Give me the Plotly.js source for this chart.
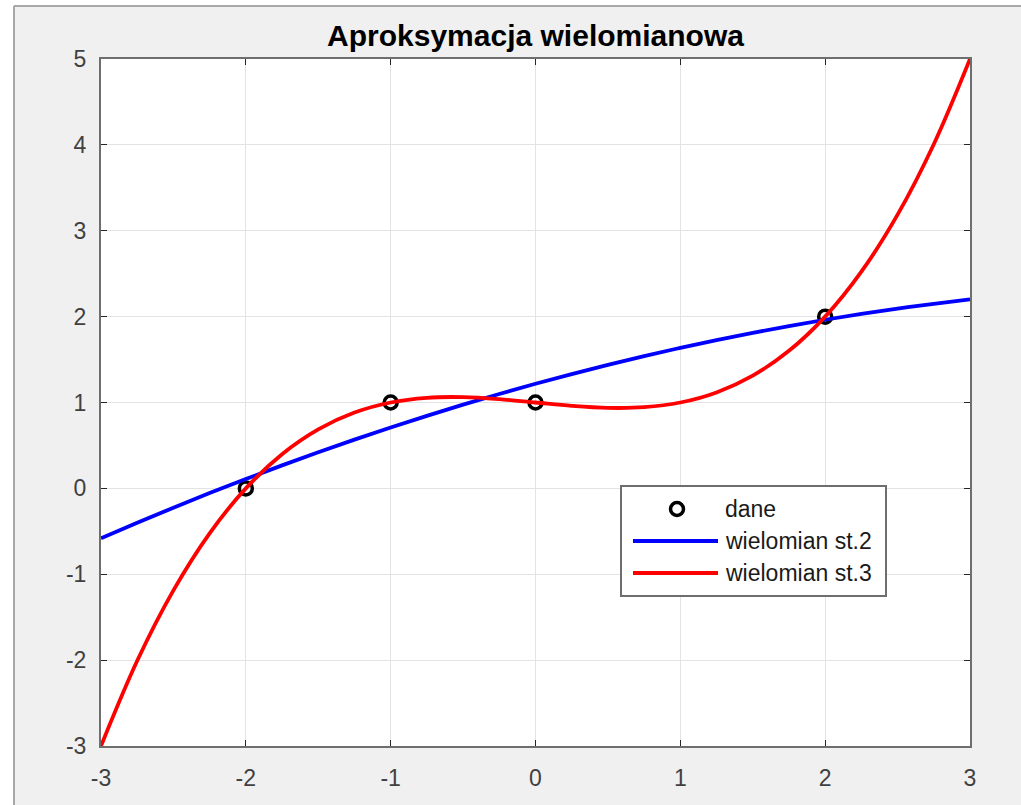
<!DOCTYPE html>
<html>
<head>
<meta charset="utf-8">
<script src="https://cdn.plot.ly/plotly-3.0.1.min.js"></script>
<style>
  html, body { margin: 0; padding: 0; background: #ffffff; }
  #chart { width: 1021px; height: 805px; }
</style>
</head>
<body>
<div id="chart"></div>
<script>
// Measured points
const dataX = [-2, -1, 0, 2];
const dataY = [0, 1, 1, 2];

// Sample abscissae for the fitted polynomials
const fitX = [-3, -2.75, -2.5, -2.25, -2, -1.75, -1.5, -1.25, -1, -0.75, -0.5, -0.25,
              0, 0.25, 0.5, 0.75, 1, 1.25, 1.5, 1.75, 2, 2.25, 2.5, 2.75, 3];

// Degree-2 least-squares polynomial, tabulated
const quadY = [-0.5818, -0.4006, -0.2250, -0.0551, 0.1091, 0.2676, 0.4205, 0.5676,
               0.7091, 0.8449, 0.9750, 1.0994, 1.2182, 1.3313, 1.4386, 1.5403,
               1.6364, 1.7267, 1.8114, 1.8903, 1.9636, 2.0313, 2.0932, 2.1494, 2.2000];

// Degree-3 polynomial, tabulated
const cubicY = [-3.0000, -2.0078, -1.1875, -0.5234, 0.0000, 0.3984, 0.6875, 0.8828,
                1.0000, 1.0547, 1.0625, 1.0391, 1.0000, 0.9609, 0.9375, 0.9453,
                1.0000, 1.1172, 1.3125, 1.6016, 2.0000, 2.5234, 3.1875, 4.0078, 5.0000];

// Tick values and labels
const xTicks = [-3, -2, -1, 0, 1, 2, 3];
const xTickText = ['-3', '-2', '-1', '0', '1', '2', '3'];
const yTicks = [-3, -2, -1, 0, 1, 2, 3, 4, 5];
const yTickText = ['-3', '-2', '-1', '0', '1', '2', '3', '4', '5'];

// Legend entries
const legendNames = ['dane', 'wielomian st.2', 'wielomian st.3'];
const titleText = 'Aproksymacja wielomianowa';

// Plot area geometry (pixels) used for placing the frame and legend
const W = 1021, H = 805;
const L = 101, R = 970, T = 59, B = 746;
const px = v => (v - L) / (R - L);
const py = v => (B - v) / (B - T);

const FONT = 'Liberation Sans, Arial, Helvetica, sans-serif';

const traces = [
  {
    x: dataX, y: dataY, type: 'scatter', mode: 'markers', name: legendNames[0],
    marker: { symbol: 'circle-open', size: 13, color: '#000000', line: { width: 3.5, color: '#000000' } },
    showlegend: false
  },
  {
    x: fitX, y: quadY, type: 'scatter', mode: 'lines', name: legendNames[1],
    line: { color: '#0000ff', width: 3.8, shape: 'spline', smoothing: 1 },
    showlegend: false
  },
  {
    x: fitX, y: cubicY, type: 'scatter', mode: 'lines', name: legendNames[2],
    line: { color: '#ff0000', width: 3.8, shape: 'spline', smoothing: 1 },
    showlegend: false
  }
];

const axisCommon = {
  showgrid: true, gridcolor: '#e3e3e3', gridwidth: 1,
  zeroline: false,
  showline: true, linecolor: '#6e6e6e', linewidth: 2, mirror: 'ticks',
  ticks: 'inside', ticklen: 6, tickwidth: 1, tickcolor: '#262626',
  tickmode: 'array',
  tickfont: { family: FONT, size: 23, color: '#404040' }
};

// Legend box, samples and labels
const legBox = { x0: 621, x1: 886, y0: 486, y1: 596 };
const rowY = [509, 541, 573];
const sampleX0 = 633, sampleX1 = 718, textX = 723, markerX = 677;

const shapes = [
  // window frame
  { type: 'rect', xref: 'paper', yref: 'paper', x0: px(-10), x1: px(W + 10), y0: py(5.5), y1: py(-10),
    fillcolor: '#ffffff', line: { width: 0 }, layer: 'below' },
  { type: 'rect', xref: 'paper', yref: 'paper', x0: px(-10), x1: px(13), y0: py(H + 10), y1: py(-10),
    fillcolor: '#ffffff', line: { width: 0 }, layer: 'below' },
  { type: 'line', xref: 'paper', yref: 'paper', x0: px(14), x1: px(14), y0: py(6), y1: py(H + 10),
    line: { color: '#a8a8a8', width: 2 } },
  { type: 'line', xref: 'paper', yref: 'paper', x0: px(14), x1: px(W + 10), y0: py(6), y1: py(6),
    line: { color: '#a8a8a8', width: 2 } },
  // legend box
  { type: 'rect', xref: 'paper', yref: 'paper', x0: px(legBox.x0), x1: px(legBox.x1),
    y0: py(legBox.y1), y1: py(legBox.y0), fillcolor: '#ffffff',
    line: { color: '#6e6e6e', width: 2 }, layer: 'above' },
  // legend marker sample
  { type: 'circle', xref: 'paper', yref: 'paper', x0: px(markerX - 6.5), x1: px(markerX + 6.5),
    y0: py(rowY[0] + 6.5), y1: py(rowY[0] - 6.5), line: { color: '#000000', width: 3.5 }, layer: 'above' },
  // legend line samples
  { type: 'line', xref: 'paper', yref: 'paper', x0: px(sampleX0), x1: px(sampleX1),
    y0: py(rowY[1]), y1: py(rowY[1]), line: { color: '#0000ff', width: 3.8 }, layer: 'above' },
  { type: 'line', xref: 'paper', yref: 'paper', x0: px(sampleX0), x1: px(sampleX1),
    y0: py(rowY[2]), y1: py(rowY[2]), line: { color: '#ff0000', width: 3.8 }, layer: 'above' }
];

const annotations = legendNames.map((name, i) => ({
  xref: 'paper', yref: 'paper', x: px(textX), y: py(rowY[i]),
  xanchor: 'left', yanchor: 'middle', showarrow: false,
  text: name, font: { family: FONT, size: 23, color: '#1a1a1a' }
}));

const layout = {
  width: W, height: H,
  paper_bgcolor: '#f0f0f0', plot_bgcolor: '#ffffff',
  margin: { l: L, r: W - R, t: T, b: H - B, pad: 0 },
  showlegend: false,
  title: {
    text: titleText,
    font: { family: FONT, size: 30, color: '#000000', weight: 'bold' },
    x: (L + R) / 2 / W, xanchor: 'center', xref: 'container',
    y: 1 - 35 / H, yanchor: 'middle', yref: 'container'
  },
  xaxis: Object.assign({}, axisCommon, {
    range: [-3, 3], tickvals: xTicks, ticktext: xTickText, ticklabelstandoff: 10
  }),
  yaxis: Object.assign({}, axisCommon, {
    range: [-3, 5], tickvals: yTicks, ticktext: yTickText, ticklabelstandoff: 8
  }),
  shapes: shapes,
  annotations: annotations
};

Plotly.newPlot('chart', traces, layout, { staticPlot: true, displayModeBar: false });
</script>
</body>
</html>
